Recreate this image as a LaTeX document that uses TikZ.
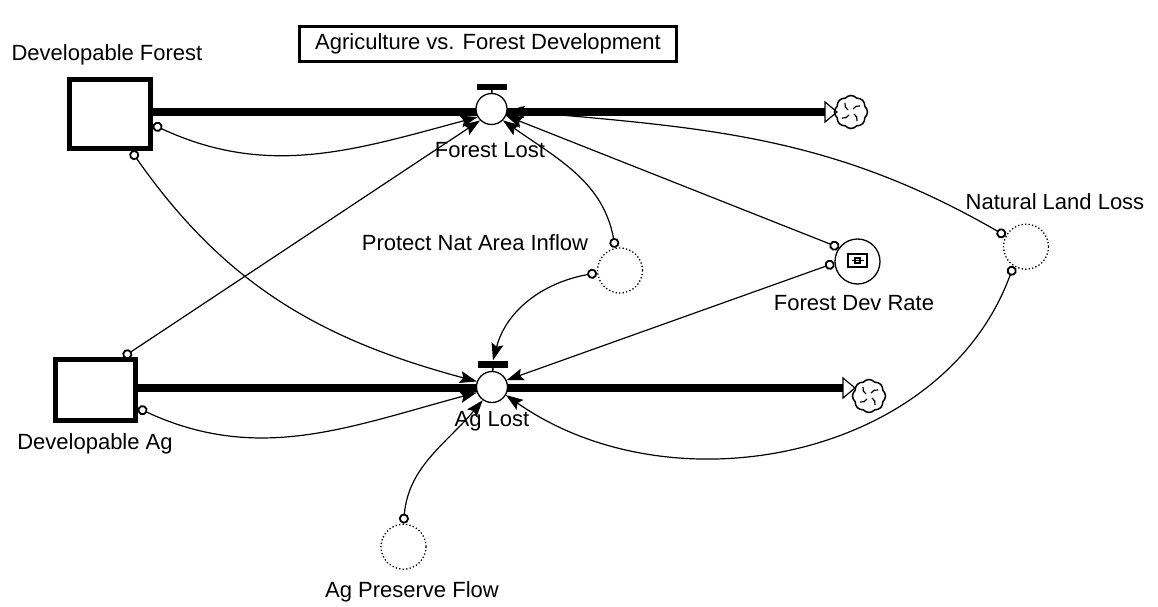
\documentclass[tikz,border=0pt]{standalone}
\usepackage{fontspec}
\setmainfont{Liberation Sans}
\usetikzlibrary{arrows.meta,shapes.symbols,calc}

\begin{document}
\begin{tikzpicture}[x=1pt, y=1pt,
    font=\fontsize{22}{26}\selectfont,
    stock/.style={draw, line width=5pt, inner sep=0pt},
    valve/.style={circle, draw, line width=1.3pt, fill=white, minimum size=31pt, inner sep=0pt},
    valvebar/.style={fill=black, minimum width=30pt, minimum height=6pt, inner sep=0pt},
    aux/.style={circle, draw, line width=1.3pt, dash pattern=on 1.3pt off 2.2pt, minimum size=45pt, inner sep=0pt},
    const/.style={circle, draw, line width=1.3pt, minimum size=45pt, inner sep=0pt},
    link/.style={line width=1.2pt, {Circle[fill=white, length=10pt, width=10pt, line width=1.8pt]}-{Stealth[length=17pt, width=12pt, inset=3pt]}},
    pipe/.style={line width=8pt},
    lbl/.style={inner sep=0pt},
    pics/sink/.style={code={
      \draw [line width=1.2pt, fill=white] (0,-10) -- (12,0) -- (0,10) -- cycle;
      \node [cloud, cloud puffs=8, cloud puff arc=100, draw, line width=1.5pt, aspect=1, minimum width=33pt, minimum height=33pt, inner sep=0pt] at (26,#1) {};
      \foreach \a in {0,90,180,270}
        \draw [line width=1.2pt, shift={(26,#1)}, rotate=\a] (2,3) to[bend left=35] (9,6);
      \coordinate (-in) at (0,0);
    }}]
    \useasboundingbox (0,0) rectangle (1158,-607);

    \node [draw, line width=3.5pt, minimum width=377pt, minimum height=35pt] (title) at (488,-44) {Agriculture vs. Forest Development};

    \node [stock, minimum width=81pt, minimum height=69pt] (devf) at (110,-114) {};
    \node [stock, minimum width=80pt, minimum height=61pt] (deva) at (95.5,-390) {};
    \node [lbl] (devflbl) at (107,-55) {Developable Forest};
    \node [lbl] (devalbl) at (95,-444) {Developable Ag};

    \pic (fs) at (825,-112) {sink=0};
    \pic (as) at (843,-388) {sink=-8};

    \draw [pipe] (devf.east |- fs-in) -- (fs-in);
    \draw [pipe] (deva.east |- as-in) -- (as-in);

    \node [valve] (fl) at (491.5,-109) {};
    \node [valvebar] (flv) at (492,-87) {};
    \draw [line width=1.5pt] (fl) -- (flv);
    \node [lbl] (fllbl) at (490,-150) {Forest Lost};

    \node [valve] (al) at (492,-387) {};
    \node [valvebar, minimum height=7pt] (alv) at (493,-364) {};
    \draw [line width=1.5pt] (al) -- (alv);
    \node [lbl] (allbl) at (492,-421) {Ag Lost};

    \node [aux] (pnai) at (620,-270.5) {};
    \node [aux] (nll) at (1026,-246.7) {};
    \node [aux] (apf) at (403.5,-546.7) {};
    \node [const] (fdr) at (857.5,-261.5) {};
    \draw [line width=1.6pt] ($(fdr)+(-9.5,-5.5)$) rectangle ++(19,13);
    \draw [line width=1.2pt] ($(fdr)+(-6,1)$) -- ++(12,0);
    \draw [line width=1.5pt] ($(fdr)+(-2.5,-1.5)$) rectangle ++(5,5);

    \node [lbl] (pnailbl) at (475,-243) {Protect Nat Area Inflow};
    \node [lbl] (fdrlbl) at (854,-303) {Forest Dev Rate};
    \node [lbl] (nlllbl) at (1055,-202) {Natural Land Loss};
    \node [lbl] (apflbl) at (412,-592) {Ag Preserve Flow};

    \draw [link] (devf.-14) to[out=-25, in=195] (fl.210);
    \draw [link] (devf.-60) to[out=-55, in=165] (al.160);
    \draw [link] (deva.50) -- (fl.225);
    \draw [link] (deva.-23) to[out=-25, in=195] (al.200);
    \draw [link] (pnai.102) to[out=100, in=-35] (fl.-45);
    \draw [link] (pnai.186) to[out=190, in=75] (alv.north);
    \draw [link] (fdr.143) -- (fl.-25);
    \draw [link] (fdr.184) -- (al.25);
    \draw [link] (nll.152) to[out=150, in=-5] (fl.-5);
    \draw [link] (nll.237) to[out=-110, in=-35] (al.-30);
    \draw [link] (apf.90) to[out=85, in=230] (al.235);
  \end{tikzpicture}
\end{document}
